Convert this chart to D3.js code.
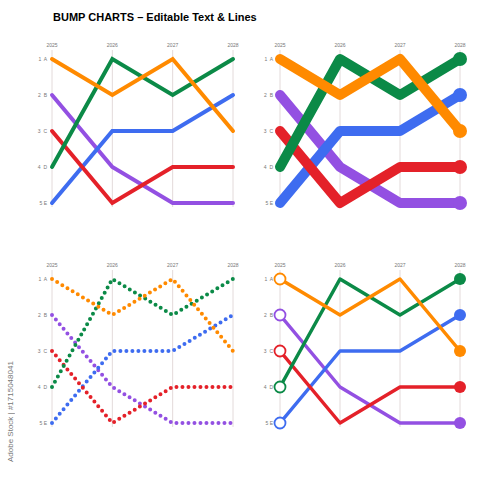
<!DOCTYPE html>
<html>
<head>
<meta charset="utf-8">
<script src="https://cdn.jsdelivr.net/npm/d3@7"></script>
<style>
  body { margin: 0; background: #fff; }
  text { font-family: "Liberation Sans", Arial, sans-serif; }
</style>
</head>
<body>
<script>
// canvas size
var width = 500,
    height = 500;

// chart data
var years = ["2025", "2026", "2027", "2028"];
var rankLabels = ["1  A", "2  B", "3  C", "4  D", "5 E"];
var seriesNames = ["purple", "blue", "red", "green", "orange"];
var seriesColors = ["#9350e2", "#3e6cf0", "#e42129", "#0b8a47", "#ff8a00"];
var purpleRanks = [2, 4, 5, 5];
var blueRanks = [5, 3, 3, 2];
var redRanks = [3, 5, 4, 4];
var greenRanks = [4, 1, 2, 1];
var orangeRanks = [1, 2, 1, 3];

var series = [purpleRanks, blueRanks, redRanks, greenRanks, orangeRanks].map(function(r, i) {
  return { name: seriesNames[i], color: seriesColors[i], ranks: r };
});

var svg = d3.select("body").append("svg")
    .attr("width", width)
    .attr("height", height);

// title
svg.append("text")
    .attr("x", 53)
    .attr("y", 21)
    .attr("font-size", 11)
    .attr("font-weight", "bold")
    .attr("fill", "#000")
    .text("BUMP CHARTS \u2013 Editable Text & Lines");

// stock id along the left edge
svg.append("text")
    .attr("transform", "translate(13,462) rotate(-90)")
    .attr("font-size", 8)
    .attr("fill", "#555")
    .attr("opacity", 0.8)
    .text("Adobe Stock | #1715048041");

// the four panels: x range, top rank y, style
var panels = [
  { x0: 52, x1: 233, y0: 59, style: "plain", labelX: 47 },
  { x0: 280, x1: 460, y0: 59, style: "thick", labelX: 273 },
  { x0: 52, x1: 233, y0: 279, style: "dotted", labelX: 47 },
  { x0: 280, x1: 460, y0: 279, style: "circles", labelX: 273 }
];

panels.forEach(function(p) {
  var x = d3.scalePoint().domain(years).range([p.x0, p.x1]);
  var y = d3.scaleLinear().domain([1, 5]).range([p.y0, p.y0 + 144]);
  var g = svg.append("g");

  // vertical grid lines
  g.selectAll(".grid")
    .data(years)
    .enter().append("line")
      .attr("x1", function(d) { return x(d); })
      .attr("x2", function(d) { return x(d); })
      .attr("y1", p.y0 - 9)
      .attr("y2", p.y0 + 148)
      .attr("stroke", "#e3dada")
      .attr("stroke-width", 1);

  // year labels
  g.selectAll(".year")
    .data(years)
    .enter().append("text")
      .attr("x", function(d) { return x(d); })
      .attr("y", p.y0 - 12)
      .attr("text-anchor", "middle")
      .attr("font-size", 5)
      .attr("fill", "#777")
      .text(function(d) { return d; });

  // rank labels
  g.selectAll(".rank")
    .data(rankLabels)
    .enter().append("text")
      .attr("x", p.labelX)
      .attr("y", function(d, i) { return y(i + 1) + 2; })
      .attr("text-anchor", "end")
      .attr("font-size", 5)
      .attr("fill", "#777")
      .style("white-space", "pre")
      .text(function(d) { return d; });

  var line = d3.line()
      .x(function(d, i) { return x(years[i]); })
      .y(function(d) { return y(d); });

  var sw = { plain: 4, thick: 10, dotted: 4, circles: 3.5 }[p.style];

  var lines = g.selectAll(".series")
    .data(series)
    .enter().append("path")
      .attr("d", function(d) { return line(d.ranks); })
      .attr("fill", "none")
      .attr("stroke", function(d) { return d.color; })
      .attr("stroke-width", sw)
      .attr("stroke-linejoin", p.style == "plain" ? "miter" : "round")
      .attr("stroke-linecap", "round");

  if (p.style == "dotted") {
    lines.attr("stroke-dasharray", "0,6");
  }

  if (p.style == "thick") {
    g.selectAll(".end")
      .data(series)
      .enter().append("circle")
        .attr("cx", x(years[3]))
        .attr("cy", function(d) { return y(d.ranks[3]); })
        .attr("r", 7)
        .attr("fill", function(d) { return d.color; });
  }

  if (p.style == "circles") {
    g.selectAll(".start")
      .data(series)
      .enter().append("circle")
        .attr("cx", x(years[0]))
        .attr("cy", function(d) { return y(d.ranks[0]); })
        .attr("r", 5.5)
        .attr("fill", "#fff")
        .attr("stroke", function(d) { return d.color; })
        .attr("stroke-width", 1.8);
    g.selectAll(".end")
      .data(series)
      .enter().append("circle")
        .attr("cx", x(years[3]))
        .attr("cy", function(d) { return y(d.ranks[3]); })
        .attr("r", 6)
        .attr("fill", function(d) { return d.color; });
  }
});
</script>
</body>
</html>
